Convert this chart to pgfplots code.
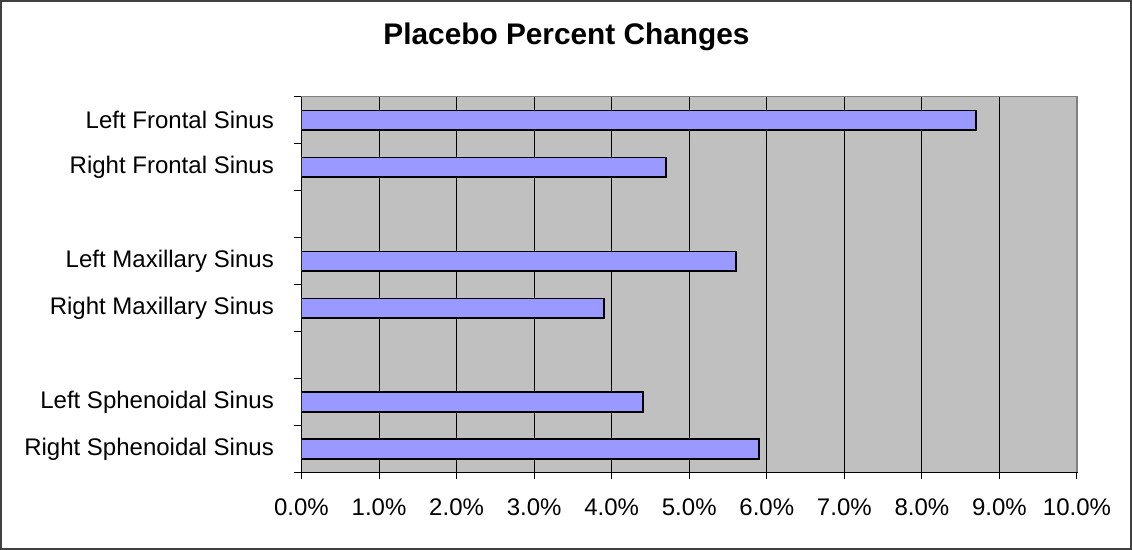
\documentclass[border=0pt]{standalone}
\usepackage{pgfplots}
\pgfplotsset{compat=1.18}
\usepackage{fontspec}
\setmainfont{Liberation Sans}
\definecolor{barblue}{HTML}{9999FF}
\definecolor{plotbg}{HTML}{C0C0C0}
\definecolor{framegray}{HTML}{808080}
\begin{document}
\begin{tikzpicture}
\useasboundingbox (-150.75pt,-38.75pt) rectangle (415.25pt,236.25pt);
\draw[color=black!75, line width=0.6pt] (-150.25pt,-38.25pt) rectangle (414.75pt,235.75pt);
\begin{axis}[name=ax, at={(0,0)}, anchor=south west,
  scale only axis, width=387.75pt, height=187.9pt,
  xbar, bar width=9.75pt, y dir=reverse,
  xmin=0, xmax=10, ymin=0.5, ymax=8.5,
  axis background/.style={fill=plotbg},
  xtick={0,1,...,10},
  xticklabel={\pgfmathprintnumber[fixed,fixed zerofill,precision=1]{\tick}\%},
  /pgf/number format/assume math mode=true,
  ytick={0.5,1.5,...,8.5}, yticklabels={},
  extra y ticks={1,2,4,5,7,8},
  extra y tick labels={Left Frontal Sinus,Right Frontal Sinus,Left Maxillary Sinus,Right Maxillary Sinus,Left Sphenoidal Sinus,Right Sphenoidal Sinus},
  extra y tick style={major tick length=0pt, tick style={draw=none}},
  tick align=outside, xtick pos=bottom, ytick pos=left,
  major tick length=3.5pt,
  tick style={black, line width=0.5pt},
  xmajorgrids=true, ymajorgrids=false,
  major x grid style={black, line width=0.5pt},
  axis line style={black, line width=0.6pt},
  xticklabel style={font=\fontsize{12}{14}\selectfont, yshift=-6.3pt},
  yticklabel style={font=\fontsize{12}{14}\selectfont, xshift=-10.3pt},
]
\addplot[fill=barblue, draw=black, line width=0.8pt] coordinates {
  (8.7,1) (4.7,2) (5.6,4) (3.9,5) (4.4,7) (5.9,8)
};
\end{axis}
\draw[framegray, line width=0.6pt] (ax.north west) -- (ax.north east) -- (ax.south east);
\node[anchor=base, font=\bfseries\fontsize{14.9}{18}\selectfont] at (132.5pt,213.75pt) {Placebo Percent Changes};
\end{tikzpicture}
\end{document}
